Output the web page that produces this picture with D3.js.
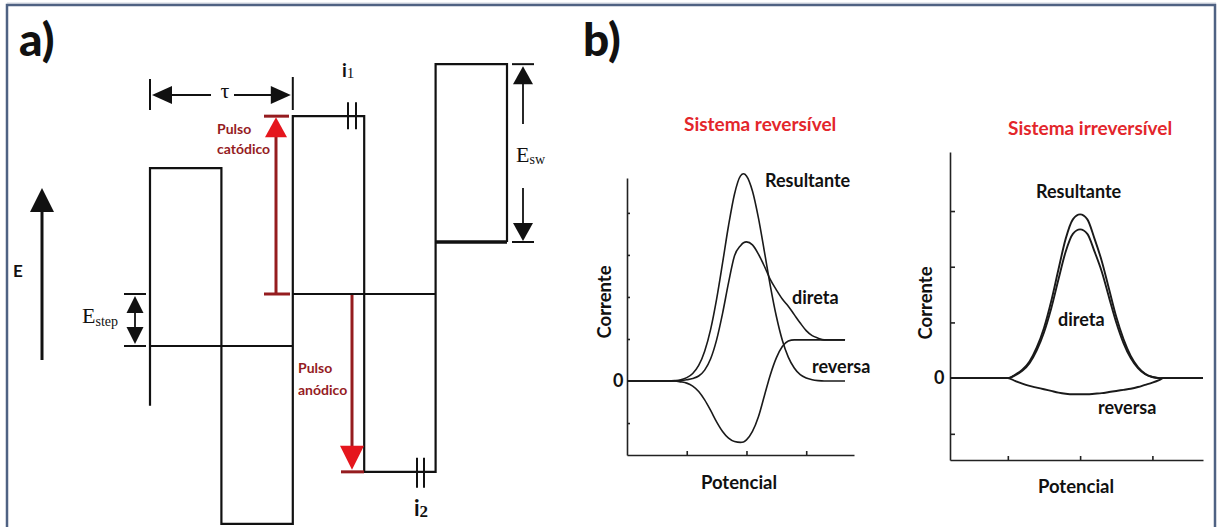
<!DOCTYPE html>
<html>
<head>
<meta charset="utf-8">
<script src="https://cdn.jsdelivr.net/npm/d3@7"></script>
<style>
  html, body { margin: 0; padding: 0; background: #fff; }
  svg { display: block; font-family: Lato, "Open Sans", sans-serif; }
</style>
</head>
<body>
<svg id="fig" width="1219" height="527"></svg>
<script>
// ---------- Panel a: square-wave potential program ----------
const halfPeriods = [0, 1, 2, 3, 4, 5];                 // half-period boundaries
const pulseLevels = [3.42, -3.42, 4.42, -2.42, 5.42];   // potential in each half-period (E_step units)
const stairLevels = [0, 1, 2];                          // underlying staircase
const stairSpans  = [[0, 2], [2, 4], [4, 5]];
const leadInLevel = -1.15;

// ---------- Panel b: reversible system ----------
const revPotential = [-2.0, -1.3, -1.2, -1.1, -1.0, -0.9, -0.8, -0.7, -0.6, -0.5, -0.4, -0.3, -0.2, -0.1, -0.05,
                      0.0, 0.1, 0.2, 0.3, 0.4, 0.5, 0.6, 0.7, 0.8, 0.9, 1.0, 1.1, 1.2, 1.3, 1.65];
const revResultant = [0, 0, 0.01, 0.03, 0.08, 0.18, 0.37, 0.71, 1.23, 1.95, 2.81, 3.70, 4.45, 4.88, 4.93,
                      4.88, 4.52, 3.88, 3.08, 2.26, 1.54, 0.97, 0.57, 0.31, 0.15, 0.07, 0.03, 0.01, 0, 0];
const revDirect    = [0, 0, 0, 0.01, 0.03, 0.06, 0.12, 0.26, 0.53, 0.98, 1.61, 2.34, 2.98, 3.22, 3.29,
                      3.31, 3.24, 3.02, 2.73, 2.41, 2.17, 1.95, 1.78, 1.58, 1.38, 1.2, 1.08, 1.02, 0.98, 0.98];
const revReverse   = [0, 0, 0, -0.02, -0.05, -0.12, -0.25, -0.45, -0.7, -0.97, -1.2, -1.36, -1.44, -1.46, -1.45,
                      -1.4, -1.2, -0.85, -0.35, 0.15, 0.55, 0.82, 0.95, 0.98, 0.98, 0.98, 0.98, 0.98, 0.98, 0.98];
const revXTicks = [-1, 0, 1];
const revYTicks = [-1, 1, 2, 3, 4];

// ---------- Panel b: irreversible system ----------
const irrPotential = [-1.8, -1.0, -0.9, -0.8, -0.7, -0.6, -0.5, -0.4, -0.3, -0.2, -0.1, 0, 0.1, 0.2, 0.3,
                      0.4, 0.5, 0.6, 0.7, 0.8, 0.9, 1.0, 1.1, 1.15, 1.7];
const irrResultant = [0, 0, 0.06, 0.15, 0.3, 0.55, 0.9, 1.38, 1.95, 2.5, 2.85, 2.94, 2.85, 2.5, 2.1,
                      1.6, 1.1, 0.7, 0.4, 0.2, 0.08, 0.02, 0, 0, 0];
const irrDirect    = [0, 0, 0.05, 0.13, 0.27, 0.5, 0.82, 1.25, 1.77, 2.27, 2.59, 2.67, 2.59, 2.27, 1.91,
                      1.45, 1.0, 0.63, 0.36, 0.18, 0.07, 0.02, 0, 0, 0];
const irrReverse   = [0, 0, -0.05, -0.1, -0.14, -0.17, -0.2, -0.23, -0.26, -0.28, -0.29, -0.29, -0.29, -0.28, -0.27,
                      -0.25, -0.23, -0.21, -0.19, -0.16, -0.12, -0.08, -0.03, 0, 0];
const irrXTicks = [-1, 0, 1];
const irrYTicks = [-1, 1, 2, 3];

const RED = "#e3262b", DARKRED = "#951c1f", ARROWRED = "#e5161d";
const SERIF = "'Liberation Serif', 'DejaVu Serif', serif";

const svg = d3.select("#fig");

// frame
svg.append("line").attr("x1", 7).attr("x2", 1216).attr("y1", 3).attr("y2", 3)
  .attr("stroke", "#cfd5df").attr("stroke-width", 1);
svg.append("rect").attr("x", 7).attr("y", 5).attr("width", 1208).attr("height", 540)
  .attr("fill", "none").attr("stroke", "#4f6283").attr("stroke-width", 2.5);

// helpers
function tri(g, x, y, dir, len, hw, fill) {
  let pts;
  if (dir === "up")    pts = [[x, y], [x - hw, y + len], [x + hw, y + len]];
  if (dir === "down")  pts = [[x, y], [x - hw, y - len], [x + hw, y - len]];
  if (dir === "left")  pts = [[x, y], [x + len, y - hw], [x + len, y + hw]];
  if (dir === "right") pts = [[x, y], [x - len, y - hw], [x - len, y + hw]];
  g.append("polygon").attr("points", pts.map(p => p.join(",")).join(" ")).attr("fill", fill);
}
function seg(g, x1, y1, x2, y2, color, w) {
  g.append("line").attr("x1", x1).attr("y1", y1).attr("x2", x2).attr("y2", y2)
    .attr("stroke", color).attr("stroke-width", w);
}
function label(g, x, y, txt, size, color, anchor, weight) {
  return g.append("text").attr("x", x).attr("y", y).text(txt)
    .attr("font-size", size).attr("fill", color || "#111")
    .attr("font-weight", weight || 700).attr("text-anchor", anchor || "start");
}

// ================= Panel a =================
const ga = svg.append("g");
label(ga, 19, 56, "a)", 46, "#111").attr("font-weight", 900);
label(svg, 583, 56, "b)", 46, "#111").attr("font-weight", 900);

const tScale = d3.scaleLinear().domain([0, 5]).range([150, 507]);
const eScale = d3.scaleLinear().domain([0, 1]).range([346, 294]);

// square wave
const wavePts = [[halfPeriods[0], leadInLevel]];
pulseLevels.forEach((e, i) => { wavePts.push([halfPeriods[i], e], [halfPeriods[i + 1], e]); });
wavePts.push([halfPeriods[5], stairLevels[2]]);
ga.append("path")
  .attr("d", d3.line().x(d => tScale(d[0])).y(d => eScale(d[1]))(wavePts))
  .attr("fill", "none").attr("stroke", "#111").attr("stroke-width", 2.2)
  .attr("stroke-linejoin", "miter");

// staircase
stairSpans.forEach((s, i) => {
  seg(ga, tScale(s[0]), eScale(stairLevels[i]), tScale(s[1]), eScale(stairLevels[i]), "#111", i === 2 ? 3.6 : 2.2);
});

// E axis arrow
seg(ga, 42, 208, 42, 360, "#111", 3);
tri(ga, 42, 188, "up", 24, 12, "#111");
label(ga, 13, 277, "E", 17, "#111");

// tau arrow
const tx0 = tScale(halfPeriods[0]), tx1 = tScale(halfPeriods[2]);
seg(ga, tx0, 79, tx0, 110, "#111", 2);
seg(ga, tx1, 77, tx1, 110, "#111", 2);
seg(ga, tx0 + 18, 95, 211, 95, "#111", 2);
seg(ga, 234, 95, tx1 - 18, 95, "#111", 2);
tri(ga, tx0 + 2, 95, "left", 20, 9, "#111");
tri(ga, tx1 - 2, 95, "right", 20, 9, "#111");
label(ga, 225, 98, "τ", 22, "#111", "middle", 400).style("font-family", SERIF);

// E_step arrow
const ys0 = eScale(stairLevels[0]), ys1 = eScale(stairLevels[1]);
seg(ga, 124, ys0, 146, ys0, "#111", 2);
seg(ga, 124, ys1, 146, ys1, "#111", 2);
seg(ga, 135, ys1 + 16, 135, ys0 - 16, "#111", 1.8);
tri(ga, 135, ys1 + 2, "up", 17, 8.5, "#111");
tri(ga, 135, ys0 - 2, "down", 17, 8.5, "#111");
const tStep = label(ga, 82, 323, "E", 22, "#111", "start", 400).style("font-family", SERIF);
tStep.append("tspan").text("step").attr("font-size", 14).attr("dy", 3);

// E_sw arrow
const yTop = eScale(pulseLevels[4]), yMid = eScale(stairLevels[2]);
seg(ga, 512, yTop, 534, yTop, "#111", 2);
seg(ga, 512, yMid, 534, yMid, "#111", 2);
seg(ga, 523, yTop + 16, 523, 124, "#111", 1.8);
seg(ga, 523, 188, 523, yMid - 16, "#111", 1.8);
tri(ga, 523, yTop + 2, "up", 18, 10, "#111");
tri(ga, 523, yMid - 1, "down", 18, 10, "#111");
const tSw = label(ga, 516, 162, "E", 22, "#111", "start", 400).style("font-family", SERIF);
tSw.append("tspan").text("sw").attr("font-size", 14).attr("dy", 2);

// cathodic pulse arrow
const xc = 276, ycTop = eScale(pulseLevels[2]), ycBot = eScale(stairLevels[1]);
seg(ga, xc, ycBot, xc, ycTop + 18, DARKRED, 3);
seg(ga, 264, ycTop, 289, ycTop, DARKRED, 3);
seg(ga, 264, ycBot, 290, ycBot, DARKRED, 3);
tri(ga, xc, ycTop + 1, "up", 20, 11, ARROWRED);
label(ga, 217, 134, "Pulso", 14, DARKRED);
label(ga, 217, 154, "catódico", 14, DARKRED);

// anodic pulse arrow
const xn = 352, ynBot = eScale(pulseLevels[3]);
seg(ga, xn, eScale(stairLevels[1]) + 1, xn, ynBot - 22, DARKRED, 3);
seg(ga, 341, ynBot, 364, ynBot, DARKRED, 3);
tri(ga, xn, ynBot - 2, "down", 24, 12, ARROWRED);
label(ga, 298, 373, "Pulso", 14, DARKRED);
label(ga, 298, 395, "anódico", 14, DARKRED);

// sampling marks i1, i2
const yi1 = eScale(pulseLevels[2]), yi2 = eScale(pulseLevels[3]);
[348, 356].forEach(x => seg(ga, x, yi1 - 14, x, yi1 + 13, "#111", 2));
[417, 424].forEach(x => seg(ga, x, yi2 - 14, x, yi2 + 16, "#111", 2));
const ti1 = label(ga, 342, 77, "i", 19, "#111");
ti1.append("tspan").text("1").attr("font-size", 15).style("font-family", SERIF).attr("font-weight", 400).attr("dy", 1);
const ti2 = label(ga, 414, 516, "i", 22, "#111");
ti2.append("tspan").text("2").attr("font-size", 17).style("font-family", SERIF).attr("font-weight", 700).attr("dy", 1);

// ================= Panel b =================
function drawChart(cfg) {
  const g = svg.append("g");
  const x = d3.scaleLinear().domain(cfg.xDomain).range(cfg.xRange);
  const y = d3.scaleLinear().domain(cfg.yDomain).range(cfg.yRange);

  const xAxis = d3.axisBottom(x).tickValues(cfg.xTicks).tickSizeInner(-4).tickSizeOuter(0).tickFormat("");
  const yAxis = d3.axisLeft(y).tickValues(cfg.yTicks).tickSizeInner(-cfg.yTickLen).tickSizeOuter(0).tickFormat("");
  const gx = g.append("g").attr("transform", `translate(0,${cfg.yRange[0]})`).call(xAxis);
  const gy = g.append("g").attr("transform", `translate(${cfg.xRange[0]},0)`).call(yAxis);
  [gx, gy].forEach(a => {
    a.selectAll("path, line").attr("stroke", "#222").attr("stroke-width", 1.6);
  });

  const line = d3.line().x(d => x(d[0])).y(d => y(d[1])).curve(d3.curveMonotoneX);
  cfg.series.forEach(s => {
    g.append("path").attr("d", line(cfg.potential.map((p, i) => [p, s[i]])))
      .attr("fill", "none").attr("stroke", "#1a1a1a").attr("stroke-width", cfg.lw);
  });

  label(g, cfg.title[0], cfg.title[1], cfg.title[2], 19, RED);
  label(g, cfg.zero[0], y(0) + 6, "0", 18, "#111");
  g.append("text").attr("transform", `translate(${cfg.ylab[0]},${cfg.ylab[1]}) rotate(-90)`)
    .attr("text-anchor", "middle").attr("font-size", 18.5).attr("font-weight", 700).attr("fill", "#111")
    .text("Corrente");
  label(g, cfg.xlab[0], cfg.xlab[1], "Potencial", 18.5, "#111", "middle");
  cfg.notes.forEach(n => label(g, n[0], n[1], n[2], 18, "#111"));
}

drawChart({
  xDomain: [-2, 1.8], xRange: [627, 854],
  yDomain: [-1.76, 4.83], yRange: [455, 178],
  xTicks: revXTicks, yTicks: revYTicks, yTickLen: 3,
  potential: revPotential, series: [revResultant, revDirect, revReverse], lw: 1.6,
  title: [684, 131, "Sistema reversível"],
  zero: [613], ylab: [611, 302], xlab: [739, 489],
  notes: [[765, 187, "Resultante"], [792, 304, "direta"], [812, 373, "reversa"]]
});

drawChart({
  xDomain: [-1.8, 1.7], xRange: [950, 1203],
  yDomain: [-1.47, 4.06], yRange: [460, 152],
  xTicks: irrXTicks, yTicks: irrYTicks, yTickLen: 5,
  potential: irrPotential, series: [irrResultant, irrDirect, irrReverse], lw: 1.9,
  title: [1008, 135, "Sistema irreversível"],
  zero: [934], ylab: [932, 303], xlab: [1076, 493],
  notes: [[1036, 198, "Resultante"], [1058, 326, "direta"], [1098, 414, "reversa"]]
});
</script>
</body>
</html>
